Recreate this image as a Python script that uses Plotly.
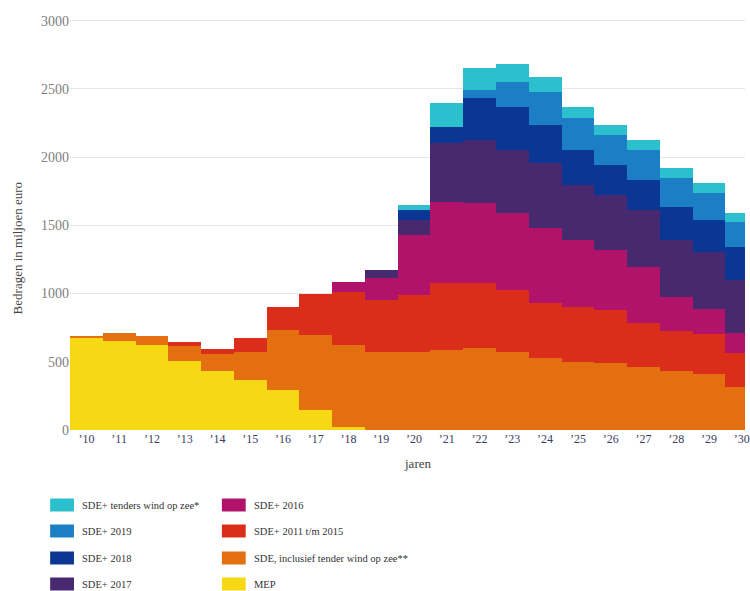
import plotly.graph_objects as go

years = ["’10", "’11", "’12", "’13", "’14", "’15", "’16", "’17", "’18", "’19", "’20",
         "’21", "’22", "’23", "’24", "’25", "’26", "’27", "’28", "’29", "’30"]

mep = [675, 655, 623, 508, 433, 367, 290, 147, 25, 0, 0,
       0, 0, 0, 0, 0, 0, 0, 0, 0, 0]
sde = [15, 56, 67, 108, 124, 205, 443, 550, 598, 572, 572,
       587, 600, 572, 528, 499, 491, 462, 433, 411, 315]
sde_11_15 = [0, 0, 0, 32, 37, 105, 170, 300, 385, 382, 418,
             491, 478, 455, 403, 403, 389, 323, 290, 295, 250]
sde_2016 = [0, 0, 0, 0, 0, 0, 0, 0, 75, 161, 440,
            594, 587, 565, 551, 492, 440, 411, 250, 183, 146]
sde_2017 = [0, 0, 0, 0, 0, 0, 0, 0, 0, 59, 110,
            433, 462, 462, 476, 403, 404, 418, 418, 417, 389]
sde_2018 = [0, 0, 0, 0, 0, 0, 0, 0, 0, 0, 74,
            117, 308, 315, 279, 257, 220, 220, 242, 234, 242]
sde_2019 = [0, 0, 0, 0, 0, 0, 0, 0, 0, 0, 0,
            0, 60, 184, 242, 234, 220, 220, 212, 198, 184]
tenders_wind = [0, 0, 0, 0, 0, 0, 0, 0, 0, 0, 36,
                176, 160, 132, 110, 81, 73, 73, 74, 74, 66]

series_names = ["MEP", "SDE, inclusief tender wind op zee**", "SDE+ 2011 t/m 2015",
                "SDE+ 2016", "SDE+ 2017", "SDE+ 2018", "SDE+ 2019",
                "SDE+ tenders wind op zee*"]
series_values = [mep, sde, sde_11_15, sde_2016, sde_2017, sde_2018, sde_2019, tenders_wind]
colors = ["#f6d814", "#e36f10", "#da2e1b", "#b1136b", "#47296f", "#0b3794", "#1c7fc6", "#2cbfcd"]

y_ticks = [0, 500, 1000, 1500, 2000, 2500, 3000]

W, H = 750, 591
ML, MR, MB = 70, 0, 161
PH = 412
MT = H - MB - PH
PW = W - ML - MR

def px(x):
    return (x - ML) / PW

def py(y):
    return (H - MB - y) / PH

fig = go.Figure()
for name, vals, col in zip(series_names, series_values, colors):
    fig.add_trace(go.Bar(x=years, y=vals, name=name, marker=dict(color=col, line=dict(width=0)),
                         showlegend=False))

font_serif = "Liberation Serif"

fig.update_layout(
    width=W, height=H,
    margin=dict(l=ML, r=MR, t=MT, b=MB),
    barmode="stack", bargap=0,
    plot_bgcolor="white", paper_bgcolor="white",
    font=dict(family=font_serif, color="#333333"),
    xaxis=dict(range=[-0.5, 20.1], showgrid=False, zeroline=False, showline=False,
               ticks="", tickfont=dict(size=12, color="#3a3d5e", family=font_serif)),
    yaxis=dict(range=[0, 3020], tickvals=y_ticks, showgrid=True, gridcolor="#e6e6e6",
               gridwidth=1, zeroline=False, showline=False, ticks="",
               tickfont=dict(size=14, color="#808080", family=font_serif)),
)

annotations = [
    dict(text="Bedragen in miljoen euro", textangle=-90, x=px(17), y=py(248),
         xref="paper", yref="paper", showarrow=False, xanchor="center", yanchor="middle",
         font=dict(size=13, color="#444444", family=font_serif)),
    dict(text="jaren", x=px(420), y=py(463), xref="paper", yref="paper", showarrow=False,
         xanchor="center", yanchor="middle", font=dict(size=13, color="#444444", family=font_serif)),
]

# Manual legend (two columns, four rows)
legend_cols = [
    (50, ["SDE+ tenders wind op zee*", "SDE+ 2019", "SDE+ 2018", "SDE+ 2017"]),
    (223, ["SDE+ 2016", "SDE+ 2011 t/m 2015", "SDE, inclusief tender wind op zee**", "MEP"]),
]
row_y = [505, 531, 558, 584]
shapes = []
for x0, names in legend_cols:
    for name, yc in zip(names, row_y):
        col = colors[series_names.index(name)]
        shapes.append(dict(type="rect", xref="paper", yref="paper",
                           x0=px(x0), x1=px(x0 + 24), y0=py(yc - 6.5), y1=py(yc + 6.5),
                           fillcolor=col, line=dict(width=0)))
        annotations.append(dict(text=name, x=px(x0 + 30), y=py(yc), xref="paper", yref="paper",
                                showarrow=False, xanchor="left", yanchor="middle",
                                font=dict(size=10.5, color="#333333", family=font_serif)))

fig.update_layout(annotations=annotations, shapes=shapes)

fig.write_html(
    "out.html",
    config={"displayModeBar": False},
    post_script="document.body.style.margin='0';document.body.style.overflow='hidden';",
)
